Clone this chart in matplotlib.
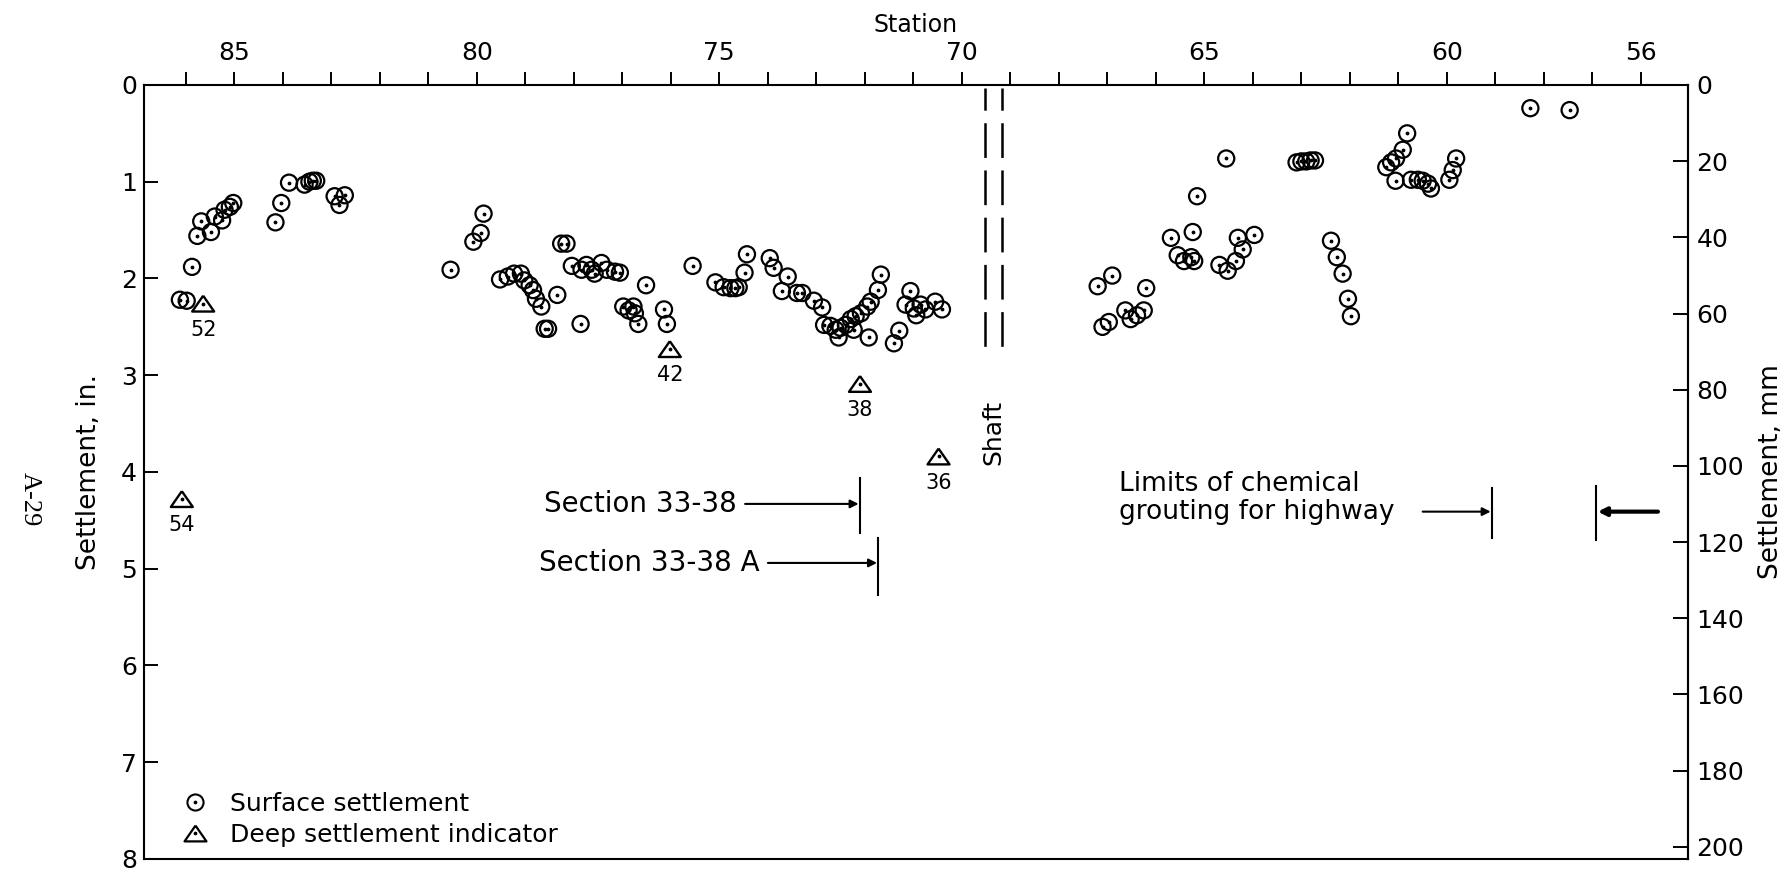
import matplotlib.pyplot as plt
from matplotlib.lines import Line2D

plt.rcParams['font.family'] = ['DejaVu Sans']
plt.rcParams['lines.scale_dashes'] = False

# surface settlement points: station and settlement (in.)
surface_station = [
    86.12, 85.98, 85.87, 85.76, 85.68, 85.48, 85.40, 85.25, 85.20, 85.09, 85.02,
    84.15, 84.03, 83.87, 83.55, 83.45, 83.38, 83.31, 82.93, 82.83, 82.72,
    80.54, 80.07, 79.92, 79.86, 79.52, 79.36, 79.23, 79.09, 79.02, 78.91,
    78.84, 78.78, 78.67, 78.60, 78.53, 78.34, 78.26, 78.15, 78.04, 77.86,
    77.84, 77.74, 77.63, 77.57, 77.43, 77.32, 77.15, 77.05, 76.98, 76.87,
    76.77, 76.74, 76.67, 76.51, 76.14, 76.08,
    75.55, 75.08, 74.91, 74.77, 74.67, 74.60, 74.48, 74.43, 73.96, 73.88,
    73.71, 73.59, 73.40, 73.29, 73.05, 72.88, 72.84, 72.71, 72.60, 72.54,
    72.50, 72.39, 72.29, 72.23, 72.19, 72.08, 71.95, 71.92, 71.88, 71.73,
    71.67, 71.40, 71.29, 71.16, 71.06, 70.99, 70.94, 70.85, 70.75, 70.55, 70.41,
    67.20, 67.10, 66.97, 66.90, 66.63, 66.52, 66.39, 66.25, 66.20,
    65.69, 65.55, 65.42, 65.27, 65.24, 65.21, 65.15,
    64.69, 64.55, 64.52, 64.35, 64.31, 64.21, 63.97,
    63.10, 63.00, 62.90, 62.81, 62.72, 62.39, 62.27, 62.15, 62.04, 61.98,
    61.25, 61.15, 61.06, 61.05, 60.91, 60.82, 60.74, 60.60, 60.50, 60.39, 60.33,
    59.95, 59.88, 59.81, 58.28, 57.47,
]
surface_in = [
    2.22, 2.23, 1.88, 1.56, 1.41, 1.52, 1.36, 1.40, 1.29, 1.26, 1.22,
    1.42, 1.22, 1.01, 1.03, 1.00, 0.99, 0.99, 1.15, 1.24, 1.14,
    1.91, 1.62, 1.53, 1.33, 2.01, 1.98, 1.95, 1.95, 2.02, 2.07,
    2.12, 2.21, 2.29, 2.52, 2.52, 2.17, 1.64, 1.64, 1.87, 2.47,
    1.91, 1.86, 1.91, 1.95, 1.84, 1.91, 1.93, 1.94, 2.29, 2.33,
    2.29, 2.36, 2.47, 2.07, 2.32, 2.47,
    1.87, 2.04, 2.09, 2.10, 2.10, 2.09, 1.94, 1.75, 1.79, 1.89,
    2.13, 1.98, 2.15, 2.15, 2.23, 2.30, 2.48, 2.49, 2.53, 2.61,
    2.51, 2.48, 2.42, 2.53, 2.39, 2.36, 2.29, 2.61, 2.24, 2.12,
    1.96, 2.67, 2.54, 2.27, 2.13, 2.31, 2.38, 2.27, 2.32, 2.24, 2.32,
    2.08, 2.50, 2.45, 1.97, 2.33, 2.42, 2.38, 2.33, 2.10,
    1.58, 1.76, 1.82, 1.78, 1.52, 1.82, 1.15,
    1.86, 0.76, 1.92, 1.82, 1.58, 1.70, 1.55,
    0.80, 0.79, 0.79, 0.78, 0.78, 1.61, 1.78, 1.95, 2.21, 2.39,
    0.85, 0.80, 0.99, 0.76, 0.67, 0.50, 0.98, 0.98, 0.99, 1.02, 1.07,
    0.98, 0.88, 0.76, 0.24, 0.26,
]

# deep settlement indicators
deep_station = [86.08, 85.64, 76.02, 72.10, 70.48]
deep_in = [4.28, 2.26, 2.73, 3.09, 3.84]
deep_ids = ['54', '52', '42', '38', '36']

station_ticks = list(range(56, 87))
labelled = [85, 80, 75, 70, 65, 60, 56]
station_labels = [str(s) if s in labelled else '' for s in station_ticks]
inch_ticks = list(range(0, 9))
mm_ticks = list(range(0, 201, 20))

shaft_station = [69.53, 69.17]

section_names = ['Section 33-38', 'Section 33-38 A']
section_station = [72.10, 71.72]
section_text_station = [74.64, 74.17]
section_in = [4.33, 4.94]
section_bar = [(4.06, 4.63), (4.68, 5.27)]

grout_station = [59.07, 56.92]
grout_bar = [(4.17, 4.68), (4.14, 4.70)]
grout_from = [60.50, 55.65]
grout_in = 4.41

fig = plt.figure(figsize=(17.91, 8.75), dpi=100)
ax = fig.add_axes([0.0804, 0.0183, 0.8621, 0.8846])

# surface points: open circle with a dot in the middle
ax.scatter(surface_station, surface_in, s=135, marker='o', facecolors='none',
           edgecolors='black', linewidths=1.6, zorder=3)
ax.scatter(surface_station, surface_in, s=3, c='black', zorder=4)

tri = [(0, 0.72), (-1, -0.72), (1, -0.72), (0, 0.72)]
ax.scatter(deep_station, deep_in, s=250, marker=tri, facecolors='none',
           edgecolors='black', linewidths=1.7, zorder=3)
ax.scatter(deep_station, deep_in, s=3, c='black', zorder=4)
for st, v, lab in zip(deep_station, deep_in, deep_ids):
    ax.annotate(lab, (st, v), xytext=(0, -19), textcoords='offset points',
                ha='center', va='center', fontsize=15)

# shaft
for st in shaft_station:
    ax.plot([st, st], [0.03, 2.72], color='black', lw=1.8,
            linestyle=(9, (25, 9)))
ax.text(69.36, 3.59, 'Shaft', rotation=90, ha='center', va='center', fontsize=18)

# sections
for name, bst, tst, yv, (y0, y1) in zip(section_names, section_station,
                                        section_text_station, section_in, section_bar):
    ax.plot([bst, bst], [y0, y1], color='black', lw=1.5)
    ax.annotate(name, xy=(bst, yv), xytext=(tst, yv), ha='right', va='center',
                fontsize=20,
                arrowprops=dict(arrowstyle='-|>', color='black', lw=1.5,
                                shrinkA=4, shrinkB=1, mutation_scale=12))

# chemical grouting limits
ax.text(66.76, 4.265, 'Limits of chemical\ngrouting for highway', ha='left',
        va='center', fontsize=19, linespacing=1.1)
for st, (y0, y1) in zip(grout_station, grout_bar):
    ax.plot([st, st], [y0, y1], color='black', lw=1.5)
ax.annotate('', xy=(grout_station[0], grout_in), xytext=(grout_from[0], grout_in),
            arrowprops=dict(arrowstyle='-|>', color='black', lw=1.5,
                            shrinkA=0, shrinkB=1, mutation_scale=12))
ax.annotate('', xy=(grout_station[1], grout_in), xytext=(grout_from[1], grout_in),
            arrowprops=dict(arrowstyle='-|>', color='black', lw=3,
                            shrinkA=0, shrinkB=1, mutation_scale=12))

# axes
ax.set_xlim(86.86, 55.03)
ax.set_ylim(8, 0)
ax.xaxis.tick_top()
ax.xaxis.set_label_position('top')
ax.set_xticks(station_ticks)
ax.set_xticklabels(station_labels)
ax.set_xlabel('Station', fontsize=17, labelpad=6)
ax.set_yticks(inch_ticks)
ax.set_ylabel('Settlement, in.', fontsize=19, labelpad=14)
ax.tick_params(axis='x', direction='out', length=9.5, width=1.4, labelsize=18,
               pad=5, top=True, bottom=False)
ax.tick_params(axis='y', direction='in', length=10, width=1.4, labelsize=18,
               pad=5, right=False)
for sp in ax.spines.values():
    sp.set_linewidth(1.5)

sec = ax.secondary_yaxis('right', functions=(lambda v: v * 25.4, lambda v: v / 25.4))
sec.set_yticks(mm_ticks)
sec.tick_params(direction='in', length=11, width=1.4, labelsize=18, pad=6)
sec.spines['right'].set_linewidth(1.5)
sec.set_ylabel('Settlement, mm', fontsize=19, labelpad=10)

# legend
h_circle = (Line2D([], [], ls='none', marker='o', ms=11.6, mfc='none', mec='black', mew=1.5),
            Line2D([], [], ls='none', marker='o', ms=1.7, color='black'))
h_tri = (Line2D([], [], ls='none', marker=tri, ms=15.8, mfc='none', mec='black', mew=1.6),
         Line2D([], [], ls='none', marker='o', ms=1.7, color='black'))
ax.legend([h_circle, h_tri], ['Surface settlement', 'Deep settlement indicator'],
          loc='lower left', bbox_to_anchor=(0.0233, 0.0155), frameon=False,
          fontsize=18, handlelength=1.2, handletextpad=0.8, labelspacing=0.28,
          borderpad=0, borderaxespad=0)

fig.text(30 / 1791, 1 - 499 / 875, 'A-29', rotation=270, ha='center', va='center',
         fontsize=19, family='Liberation Serif')

fig.savefig('out.png', dpi=100)
